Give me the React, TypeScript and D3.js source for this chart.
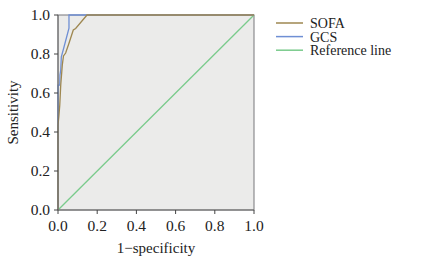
import React from "react";
import * as d3 from "d3";

const sofaFpr = [0, 0, 0.005, 0.009, 0.014, 0.022, 0.028, 0.039, 0.056, 0.078, 0.09, 0.148, 1];
const sofaTpr = [0, 0.436, 0.487, 0.538, 0.641, 0.744, 0.79, 0.805, 0.855, 0.923, 0.931, 1, 1];
const gcsFpr = [0, 0, 0.009, 0.01, 0.014, 0.017, 0.031, 0.056, 0.056, 1];
const gcsTpr = [0, 0.64, 0.64, 0.692, 0.718, 0.786, 0.837, 0.933, 1, 1];
const refLine = [0, 1];
const ticks = [0, 0.2, 0.4, 0.6, 0.8, 1.0];
const legendLabels = ["SOFA", "GCS", "Reference line"];
const colors = ["#9e8750", "#6f8fd4", "#7acb8c"];

const W = 425, H = 264;
const m = { left: 58, right: 254, top: 15, bottom: 210 };
const font = "'Liberation Serif', 'Times New Roman', serif";

export default function App() {
  const x = d3.scaleLinear().domain([0, 1]).range([m.left, m.right]);
  const y = d3.scaleLinear().domain([0, 1]).range([m.bottom, m.top]);
  const line = d3.line<[number, number]>().x(d => x(d[0])).y(d => y(d[1]));
  const sofa = sofaFpr.map((v, i) => [v, sofaTpr[i]] as [number, number]);
  const gcs = gcsFpr.map((v, i) => [v, gcsTpr[i]] as [number, number]);
  const ref = refLine.map(v => [v, v] as [number, number]);
  return (
    <svg width={W} height={H} style={{ position: "absolute", left: 0, top: 0, background: "#fff" }}>
      <rect x={m.left} y={m.top} width={m.right - m.left} height={m.bottom - m.top} fill="#ebebea" stroke="#77777a" strokeWidth={1} />
      {[ref, gcs, sofa].map((d, i) => (
        <path key={i} d={line(d) || ""} fill="none" stroke={colors[2 - i]} strokeWidth={1.3} />
      ))}
      <line x1={m.left} x2={m.left} y1={m.top} y2={m.bottom} stroke="#6a6a6a" />
      <line x1={m.left} x2={m.right} y1={m.bottom} y2={m.bottom} stroke="#6a6a6a" />
      {ticks.map(t => (
        <g key={"x" + t}>
          <line x1={x(t)} x2={x(t)} y1={m.bottom} y2={m.bottom + 4} stroke="#444" />
          <text x={x(t)} y={m.bottom + 21} textAnchor="middle" fontFamily={font} fontSize={15.5} fill="#222">{t.toFixed(1)}</text>
        </g>
      ))}
      {ticks.map(t => (
        <g key={"y" + t}>
          <line x1={m.left - 4} x2={m.left} y1={y(t)} y2={y(t)} stroke="#444" />
          <text x={m.left - 8} y={y(t) + 5} textAnchor="end" fontFamily={font} fontSize={15.5} fill="#222">{t.toFixed(1)}</text>
        </g>
      ))}
      <text x={(m.left + m.right) / 2} y={253} textAnchor="middle" fontFamily={font} fontSize={15} fill="#222">1−specificity</text>
      <text transform={`translate(18,${(m.top + m.bottom) / 2}) rotate(-90)`} textAnchor="middle" fontFamily={font} fontSize={15} fill="#222">Sensitivity</text>
      {legendLabels.map((l, i) => (
        <g key={l}>
          <line x1={276} x2={303} y1={23 + i * 13.6} y2={23 + i * 13.6} stroke={colors[i]} strokeWidth={1.5} />
          <text x={310} y={28 + i * 13.6} fontFamily={font} fontSize={14} fill="#222">{l}</text>
        </g>
      ))}
    </svg>
  );
}
